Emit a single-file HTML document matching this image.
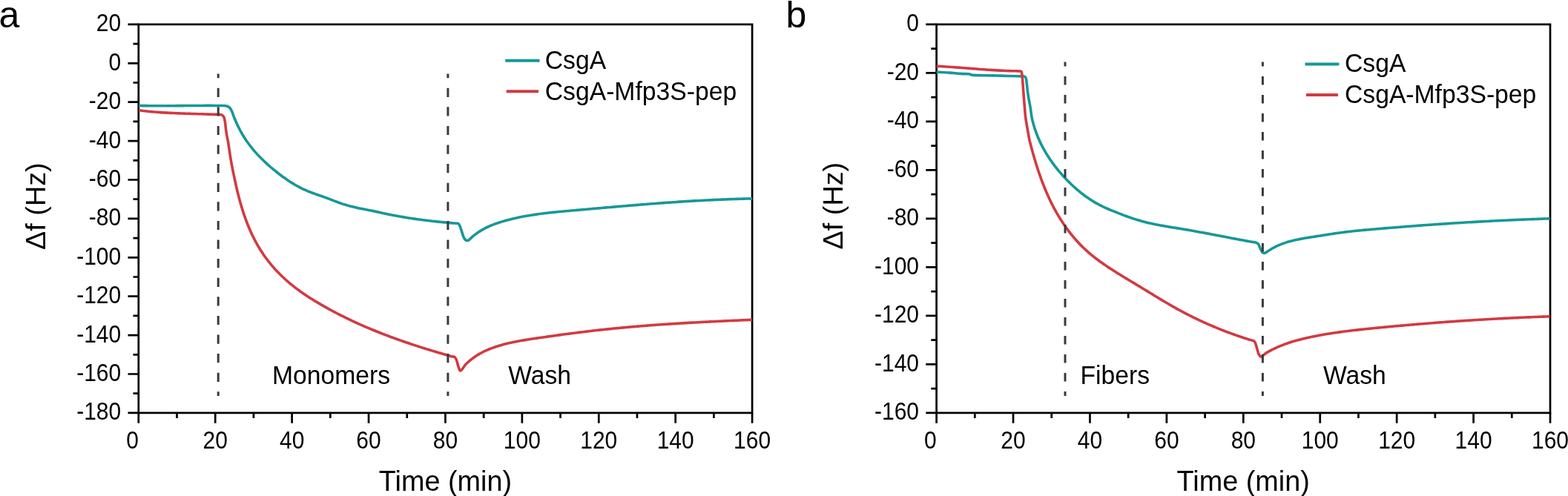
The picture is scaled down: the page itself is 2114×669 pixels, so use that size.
<!DOCTYPE html>
<html><head><meta charset="utf-8"><title>QCM-D frequency shift</title>
<style>
html,body{margin:0;padding:0;background:#fff;}
body{width:2114px;height:669px;overflow:hidden;}
svg{display:block;}
text{font-family:'Liberation Sans', Arial, sans-serif;fill:#000;}
.tk{font-size:30px;}
.tt{font-size:37.8px;}
.lg{font-size:33.7px;}
.pl{font-size:50px;}
</style></head>
<body>
<svg width="2114" height="669" viewBox="0 0 2114 669">
<rect width="2114" height="669" fill="#fff"/>
<rect x="186.80" y="32.90" width="827.30" height="524.00" fill="none" stroke="#000" stroke-width="2.7"/>
<text transform="translate(163.20,42.30) scale(1,1.12)" text-anchor="end" class="tk">20</text>
<text transform="translate(163.20,94.70) scale(1,1.12)" text-anchor="end" class="tk">0</text>
<text transform="translate(163.20,147.10) scale(1,1.12)" text-anchor="end" class="tk">-20</text>
<text transform="translate(163.20,199.50) scale(1,1.12)" text-anchor="end" class="tk">-40</text>
<text transform="translate(163.20,251.90) scale(1,1.12)" text-anchor="end" class="tk">-60</text>
<text transform="translate(163.20,304.30) scale(1,1.12)" text-anchor="end" class="tk">-80</text>
<text transform="translate(163.20,356.70) scale(1,1.12)" text-anchor="end" class="tk">-100</text>
<text transform="translate(163.20,409.10) scale(1,1.12)" text-anchor="end" class="tk">-120</text>
<text transform="translate(163.20,461.50) scale(1,1.12)" text-anchor="end" class="tk">-140</text>
<text transform="translate(163.20,513.90) scale(1,1.12)" text-anchor="end" class="tk">-160</text>
<text transform="translate(163.20,566.30) scale(1,1.12)" text-anchor="end" class="tk">-180</text>
<text transform="translate(178.50,604.8) scale(1,1.12)" text-anchor="middle" class="tk">0</text>
<text transform="translate(290.21,604.8) scale(1,1.12)" text-anchor="middle" class="tk">20</text>
<text transform="translate(393.62,604.8) scale(1,1.12)" text-anchor="middle" class="tk">40</text>
<text transform="translate(497.04,604.8) scale(1,1.12)" text-anchor="middle" class="tk">60</text>
<text transform="translate(600.45,604.8) scale(1,1.12)" text-anchor="middle" class="tk">80</text>
<text transform="translate(703.86,604.8) scale(1,1.12)" text-anchor="middle" class="tk">100</text>
<text transform="translate(807.28,604.8) scale(1,1.12)" text-anchor="middle" class="tk">120</text>
<text transform="translate(910.69,604.8) scale(1,1.12)" text-anchor="middle" class="tk">140</text>
<text transform="translate(1014.10,604.8) scale(1,1.12)" text-anchor="middle" class="tk">160</text>
<path d="M172.50,32.90H186.80M179.50,59.10H186.80M172.50,85.30H186.80M179.50,111.50H186.80M172.50,137.70H186.80M179.50,163.90H186.80M172.50,190.10H186.80M179.50,216.30H186.80M172.50,242.50H186.80M179.50,268.70H186.80M172.50,294.90H186.80M179.50,321.10H186.80M172.50,347.30H186.80M179.50,373.50H186.80M172.50,399.70H186.80M179.50,425.90H186.80M172.50,452.10H186.80M179.50,478.30H186.80M172.50,504.50H186.80M179.50,530.70H186.80M172.50,556.90H186.80M186.80,556.90V570.70M238.51,556.90V563.90M290.21,556.90V570.70M341.92,556.90V563.90M393.62,556.90V570.70M445.33,556.90V563.90M497.04,556.90V570.70M548.74,556.90V563.90M600.45,556.90V570.70M652.16,556.90V563.90M703.86,556.90V570.70M755.57,556.90V563.90M807.28,556.90V570.70M858.98,556.90V563.90M910.69,556.90V570.70M962.39,556.90V563.90M1014.10,556.90V570.70" stroke="#000" stroke-width="2.7" fill="none"/>
<rect x="1262.60" y="32.90" width="827.40" height="524.00" fill="none" stroke="#000" stroke-width="2.7"/>
<text transform="translate(1239.00,42.30) scale(1,1.12)" text-anchor="end" class="tk">0</text>
<text transform="translate(1239.00,107.80) scale(1,1.12)" text-anchor="end" class="tk">-20</text>
<text transform="translate(1239.00,173.30) scale(1,1.12)" text-anchor="end" class="tk">-40</text>
<text transform="translate(1239.00,238.80) scale(1,1.12)" text-anchor="end" class="tk">-60</text>
<text transform="translate(1239.00,304.30) scale(1,1.12)" text-anchor="end" class="tk">-80</text>
<text transform="translate(1239.00,369.80) scale(1,1.12)" text-anchor="end" class="tk">-100</text>
<text transform="translate(1239.00,435.30) scale(1,1.12)" text-anchor="end" class="tk">-120</text>
<text transform="translate(1239.00,500.80) scale(1,1.12)" text-anchor="end" class="tk">-140</text>
<text transform="translate(1239.00,566.30) scale(1,1.12)" text-anchor="end" class="tk">-160</text>
<text transform="translate(1254.30,604.8) scale(1,1.12)" text-anchor="middle" class="tk">0</text>
<text transform="translate(1366.02,604.8) scale(1,1.12)" text-anchor="middle" class="tk">20</text>
<text transform="translate(1469.45,604.8) scale(1,1.12)" text-anchor="middle" class="tk">40</text>
<text transform="translate(1572.88,604.8) scale(1,1.12)" text-anchor="middle" class="tk">60</text>
<text transform="translate(1676.30,604.8) scale(1,1.12)" text-anchor="middle" class="tk">80</text>
<text transform="translate(1779.72,604.8) scale(1,1.12)" text-anchor="middle" class="tk">100</text>
<text transform="translate(1883.15,604.8) scale(1,1.12)" text-anchor="middle" class="tk">120</text>
<text transform="translate(1986.58,604.8) scale(1,1.12)" text-anchor="middle" class="tk">140</text>
<text transform="translate(2090.00,604.8) scale(1,1.12)" text-anchor="middle" class="tk">160</text>
<path d="M1248.30,32.90H1262.60M1255.30,65.65H1262.60M1248.30,98.40H1262.60M1255.30,131.15H1262.60M1248.30,163.90H1262.60M1255.30,196.65H1262.60M1248.30,229.40H1262.60M1255.30,262.15H1262.60M1248.30,294.90H1262.60M1255.30,327.65H1262.60M1248.30,360.40H1262.60M1255.30,393.15H1262.60M1248.30,425.90H1262.60M1255.30,458.65H1262.60M1248.30,491.40H1262.60M1255.30,524.15H1262.60M1248.30,556.90H1262.60M1262.60,556.90V570.70M1314.31,556.90V563.90M1366.02,556.90V570.70M1417.74,556.90V563.90M1469.45,556.90V570.70M1521.16,556.90V563.90M1572.88,556.90V570.70M1624.59,556.90V563.90M1676.30,556.90V570.70M1728.01,556.90V563.90M1779.72,556.90V570.70M1831.44,556.90V563.90M1883.15,556.90V570.70M1934.86,556.90V563.90M1986.58,556.90V570.70M2038.29,556.90V563.90M2090.00,556.90V570.70" stroke="#000" stroke-width="2.7" fill="none"/>
<path d="M187.00,142.50C187.72,142.51 189.87,142.55 191.30,142.58C192.73,142.60 194.16,142.62 195.60,142.64C197.03,142.65 198.46,142.67 199.89,142.68C201.32,142.70 202.76,142.71 204.19,142.72C205.62,142.73 207.05,142.73 208.48,142.74C209.91,142.74 211.34,142.75 212.77,142.75C214.20,142.75 215.63,142.75 217.06,142.75C218.49,142.75 219.92,142.75 221.35,142.75C222.78,142.74 224.21,142.74 225.64,142.73C227.07,142.73 228.50,142.72 229.93,142.71C231.36,142.70 232.79,142.70 234.22,142.69C235.65,142.68 237.08,142.67 238.51,142.66C239.94,142.65 241.36,142.64 242.79,142.63C244.22,142.62 245.65,142.61 247.08,142.59C248.51,142.58 249.94,142.57 251.37,142.56C252.80,142.55 254.23,142.54 255.66,142.53C257.09,142.52 258.52,142.51 259.95,142.50C261.38,142.49 262.81,142.48 264.24,142.47C265.67,142.46 267.10,142.45 268.53,142.45C269.96,142.44 271.39,142.43 272.82,142.43C274.25,142.42 275.68,142.42 277.11,142.42C278.54,142.42 279.98,142.41 281.41,142.41C282.84,142.42 284.27,142.42 285.70,142.42C287.13,142.42 288.57,142.43 290.00,142.44C291.43,142.44 292.87,142.45 294.30,142.46C295.73,142.47 296.97,142.46 298.60,142.50C300.23,142.54 302.40,142.38 304.10,142.70C305.80,143.02 307.57,143.55 308.80,144.40C310.03,145.25 310.72,146.45 311.50,147.80C312.28,149.15 312.94,151.09 313.50,152.50C314.06,153.91 314.41,155.02 314.88,156.27C315.36,157.53 315.85,158.78 316.36,160.03C316.87,161.27 317.39,162.52 317.93,163.76C318.47,164.99 319.03,166.23 319.60,167.45C320.17,168.68 320.75,169.90 321.35,171.12C321.95,172.33 322.57,173.54 323.20,174.74C323.83,175.94 324.48,177.13 325.14,178.31C325.80,179.49 326.48,180.66 327.17,181.83C327.86,182.99 328.57,184.14 329.29,185.29C330.02,186.43 330.75,187.56 331.50,188.68C332.25,189.80 333.02,190.91 333.80,192.00C334.58,193.10 335.38,194.18 336.19,195.26C336.99,196.33 337.82,197.39 338.65,198.44C339.49,199.49 340.33,200.53 341.19,201.57C342.05,202.60 342.93,203.62 343.81,204.63C344.69,205.64 345.59,206.64 346.50,207.63C347.40,208.62 348.32,209.60 349.25,210.57C350.18,211.54 351.12,212.50 352.07,213.45C353.02,214.41 353.98,215.35 354.95,216.29C355.91,217.22 356.89,218.15 357.88,219.07C358.86,219.99 359.86,220.90 360.86,221.80C361.86,222.71 362.88,223.60 363.89,224.49C364.91,225.38 365.94,226.26 366.97,227.13C368.00,228.00 369.04,228.87 370.09,229.72C371.14,230.58 372.19,231.43 373.25,232.27C374.31,233.11 375.38,233.94 376.46,234.76C377.53,235.59 378.61,236.40 379.70,237.20C380.79,238.01 381.88,238.80 382.99,239.59C384.09,240.37 385.19,241.15 386.31,241.91C387.42,242.67 388.54,243.43 389.67,244.17C390.80,244.91 391.93,245.64 393.07,246.36C394.21,247.08 395.35,247.79 396.50,248.49C397.66,249.18 398.81,249.86 399.98,250.53C401.15,251.19 402.33,251.84 403.51,252.46C404.70,253.09 405.89,253.70 407.10,254.28C408.30,254.87 409.52,255.43 410.75,255.98C411.97,256.52 413.21,257.04 414.45,257.55C415.69,258.07 416.94,258.56 418.20,259.04C419.45,259.53 420.72,260.00 421.98,260.46C423.24,260.93 424.51,261.39 425.78,261.84C427.05,262.30 428.32,262.74 429.59,263.19C430.86,263.64 432.13,264.09 433.40,264.54C434.67,264.99 435.94,265.44 437.21,265.89C438.48,266.35 439.75,266.80 441.01,267.27C442.28,267.73 443.54,268.20 444.80,268.68C446.06,269.15 447.31,269.64 448.57,270.12C449.83,270.60 451.08,271.08 452.34,271.56C453.59,272.03 454.85,272.51 456.11,272.97C457.37,273.44 458.63,273.89 459.90,274.33C461.17,274.78 462.44,275.21 463.71,275.62C464.99,276.03 466.27,276.42 467.56,276.80C468.85,277.17 470.14,277.53 471.44,277.88C472.74,278.22 474.04,278.55 475.35,278.87C476.65,279.19 477.96,279.50 479.28,279.80C480.59,280.10 481.91,280.38 483.23,280.67C484.54,280.95 485.87,281.22 487.19,281.49C488.51,281.76 489.84,282.02 491.16,282.28C492.48,282.55 493.81,282.80 495.14,283.06C496.46,283.32 497.79,283.58 499.11,283.84C500.44,284.10 501.76,284.37 503.08,284.63C504.41,284.90 505.73,285.17 507.05,285.45C508.37,285.73 509.68,286.02 511.00,286.30C512.31,286.59 513.63,286.88 514.94,287.17C516.26,287.46 517.57,287.75 518.89,288.03C520.21,288.31 521.52,288.59 522.84,288.87C524.16,289.14 525.48,289.41 526.80,289.67C528.12,289.94 529.45,290.19 530.77,290.45C532.09,290.70 533.42,290.95 534.74,291.20C536.07,291.44 537.39,291.68 538.72,291.92C540.05,292.15 541.38,292.38 542.71,292.61C544.04,292.84 545.37,293.06 546.70,293.28C548.03,293.50 549.36,293.71 550.69,293.92C552.03,294.13 553.36,294.34 554.69,294.54C556.03,294.74 557.36,294.94 558.70,295.13C560.03,295.32 561.37,295.51 562.71,295.70C564.04,295.89 565.38,296.07 566.72,296.25C568.06,296.42 569.39,296.60 570.73,296.77C572.07,296.94 573.41,297.11 574.75,297.27C576.09,297.44 577.43,297.60 578.77,297.76C580.11,297.91 581.45,298.07 582.79,298.22C584.14,298.37 585.48,298.52 586.82,298.66C588.16,298.81 589.50,298.95 590.84,299.09C592.19,299.23 593.53,299.36 594.87,299.50C596.21,299.63 597.55,299.76 598.90,299.89C600.24,300.02 601.58,300.14 602.92,300.26C604.27,300.39 605.61,300.51 606.95,300.62C608.29,300.74 609.63,300.86 610.98,300.97C612.32,301.08 613.83,301.18 615.00,301.30C616.17,301.42 617.13,301.02 618.00,301.70C618.87,302.38 619.45,303.67 620.20,305.40C620.95,307.13 621.75,309.85 622.50,312.10C623.25,314.35 623.95,317.08 624.70,318.90C625.45,320.72 626.18,322.07 627.00,323.00C627.82,323.93 628.73,324.38 629.60,324.50C630.47,324.62 631.26,324.32 632.20,323.70C633.14,323.08 634.19,321.73 635.22,320.80C636.24,319.87 637.28,318.97 638.34,318.10C639.40,317.23 640.48,316.40 641.57,315.59C642.66,314.78 643.77,314.01 644.89,313.26C646.01,312.51 647.15,311.79 648.30,311.10C649.44,310.40 650.61,309.73 651.78,309.09C652.96,308.45 654.15,307.83 655.34,307.23C656.54,306.64 657.75,306.06 658.97,305.51C660.19,304.96 661.42,304.43 662.66,303.92C663.90,303.41 665.15,302.92 666.41,302.44C667.66,301.97 668.93,301.51 670.20,301.07C671.47,300.63 672.74,300.21 674.03,299.80C675.31,299.39 676.60,299.00 677.89,298.61C679.18,298.23 680.48,297.86 681.78,297.50C683.08,297.14 684.38,296.80 685.69,296.46C687.00,296.12 688.31,295.79 689.62,295.47C690.93,295.15 692.24,294.84 693.56,294.54C694.88,294.24 696.20,293.95 697.52,293.67C698.84,293.39 700.16,293.11 701.49,292.85C702.82,292.58 704.15,292.32 705.48,292.07C706.81,291.82 708.14,291.58 709.47,291.34C710.81,291.10 712.14,290.88 713.48,290.65C714.82,290.43 716.16,290.22 717.50,290.01C718.84,289.80 720.18,289.60 721.53,289.40C722.87,289.20 724.22,289.01 725.56,288.83C726.91,288.64 728.26,288.46 729.61,288.29C730.96,288.11 732.31,287.94 733.66,287.78C735.01,287.61 736.37,287.45 737.72,287.29C739.08,287.14 740.43,286.98 741.79,286.83C743.14,286.68 744.50,286.54 745.86,286.40C747.21,286.25 748.57,286.12 749.93,285.98C751.29,285.84 752.65,285.71 754.00,285.58C755.36,285.45 756.72,285.32 758.08,285.19C759.44,285.06 760.80,284.94 762.16,284.81C763.52,284.69 764.88,284.57 766.24,284.44C767.60,284.32 768.96,284.20 770.32,284.08C771.68,283.96 773.04,283.84 774.40,283.72C775.76,283.60 777.12,283.48 778.48,283.36C779.84,283.24 781.20,283.12 782.56,283.01C783.91,282.89 785.27,282.77 786.63,282.65C787.99,282.53 789.34,282.41 790.70,282.29C792.06,282.17 793.42,282.05 794.77,281.93C796.13,281.81 797.48,281.69 798.84,281.57C800.20,281.45 801.55,281.33 802.91,281.21C804.26,281.09 805.62,280.97 806.97,280.85C808.32,280.74 809.68,280.62 811.03,280.50C812.39,280.38 813.74,280.26 815.10,280.14C816.45,280.03 817.80,279.91 819.16,279.79C820.51,279.67 821.86,279.55 823.21,279.44C824.57,279.32 825.92,279.20 827.27,279.09C828.63,278.97 829.98,278.85 831.33,278.74C832.68,278.62 834.03,278.51 835.39,278.39C836.74,278.28 838.09,278.16 839.44,278.05C840.79,277.93 842.14,277.82 843.49,277.71C844.85,277.59 846.20,277.48 847.55,277.37C848.90,277.25 850.25,277.14 851.60,277.03C852.95,276.92 854.30,276.81 855.65,276.70C857.00,276.59 858.35,276.47 859.70,276.37C861.05,276.26 862.41,276.15 863.76,276.04C865.11,275.93 866.46,275.82 867.81,275.71C869.16,275.61 870.51,275.50 871.86,275.39C873.21,275.29 874.56,275.18 875.91,275.08C877.26,274.97 878.61,274.87 879.96,274.77C881.31,274.66 882.66,274.56 884.01,274.46C885.36,274.36 886.71,274.25 888.06,274.15C889.41,274.05 890.76,273.95 892.11,273.85C893.46,273.76 894.81,273.66 896.16,273.56C897.51,273.46 898.86,273.37 900.21,273.27C901.56,273.18 902.91,273.08 904.26,272.99C905.61,272.89 906.96,272.80 908.31,272.71C909.66,272.62 911.01,272.52 912.37,272.43C913.72,272.34 915.07,272.25 916.42,272.17C917.77,272.08 919.12,271.99 920.47,271.90C921.82,271.82 923.18,271.73 924.53,271.65C925.88,271.56 927.23,271.48 928.58,271.40C929.93,271.32 931.29,271.24 932.64,271.15C933.99,271.07 935.34,271.00 936.70,270.92C938.05,270.84 939.40,270.76 940.76,270.69C942.11,270.61 943.46,270.54 944.82,270.46C946.17,270.39 947.52,270.32 948.88,270.25C950.23,270.18 951.58,270.11 952.94,270.04C954.29,269.97 955.65,269.90 957.00,269.84C958.36,269.77 959.71,269.71 961.07,269.64C962.42,269.58 963.78,269.52 965.14,269.46C966.49,269.40 967.85,269.34 969.20,269.28C970.56,269.22 971.92,269.17 973.28,269.11C974.63,269.05 975.99,269.00 977.35,268.95C978.71,268.90 980.06,268.85 981.42,268.80C982.78,268.75 984.14,268.70 985.50,268.65C986.86,268.60 988.22,268.56 989.58,268.52C990.94,268.47 992.30,268.43 993.66,268.39C995.02,268.35 996.38,268.31 997.74,268.27C999.10,268.23 1000.47,268.20 1001.83,268.16C1003.19,268.13 1004.55,268.10 1005.92,268.07C1007.28,268.04 1008.64,268.01 1010.01,267.98C1011.37,267.95 1013.42,267.91 1014.10,267.90" fill="none" stroke="#169897" stroke-width="3.6" stroke-linejoin="round" stroke-linecap="butt"/>
<path d="M187.00,148.70C187.70,148.79 189.81,149.07 191.21,149.24C192.61,149.42 194.02,149.58 195.42,149.74C196.83,149.90 198.23,150.05 199.64,150.19C201.04,150.34 202.45,150.47 203.86,150.60C205.26,150.73 206.67,150.86 208.08,150.98C209.49,151.09 210.90,151.21 212.30,151.31C213.71,151.42 215.12,151.52 216.53,151.62C217.94,151.71 219.35,151.80 220.76,151.89C222.17,151.98 223.58,152.06 224.99,152.14C226.40,152.21 227.81,152.29 229.22,152.36C230.63,152.43 232.04,152.49 233.46,152.56C234.87,152.62 236.28,152.68 237.69,152.74C239.11,152.79 240.52,152.85 241.93,152.90C243.34,152.95 244.76,153.00 246.17,153.05C247.58,153.10 249.00,153.14 250.41,153.19C251.82,153.23 253.24,153.28 254.65,153.32C256.06,153.36 257.48,153.40 258.89,153.45C260.31,153.49 261.72,153.53 263.14,153.57C264.55,153.61 265.96,153.65 267.38,153.69C268.79,153.73 270.21,153.77 271.62,153.82C273.04,153.86 274.45,153.90 275.87,153.95C277.28,153.99 278.70,154.04 280.11,154.09C281.53,154.13 282.94,154.18 284.36,154.24C285.77,154.29 286.74,154.37 288.60,154.40C290.46,154.43 293.70,154.27 295.50,154.40C297.30,154.53 298.30,154.52 299.40,155.20C300.50,155.88 301.43,156.93 302.10,158.50C302.77,160.07 302.97,161.78 303.40,164.60C303.83,167.42 304.25,172.08 304.70,175.40C305.15,178.72 305.67,182.07 306.10,184.50C306.53,186.93 306.85,187.48 307.30,190.00C307.75,192.52 308.32,196.40 308.80,199.60C309.28,202.80 309.70,206.02 310.20,209.20C310.70,212.38 311.23,215.52 311.80,218.70C312.37,221.88 312.97,225.10 313.60,228.30C314.23,231.50 315.13,235.65 315.60,237.90C316.07,240.15 316.13,240.51 316.41,241.82C316.68,243.13 316.96,244.44 317.24,245.75C317.52,247.06 317.81,248.37 318.10,249.68C318.40,250.99 318.69,252.30 319.00,253.62C319.30,254.93 319.61,256.24 319.93,257.55C320.24,258.86 320.56,260.18 320.89,261.49C321.22,262.80 321.55,264.11 321.89,265.42C322.23,266.73 322.58,268.04 322.94,269.34C323.29,270.65 323.65,271.96 324.02,273.26C324.39,274.56 324.76,275.87 325.14,277.17C325.53,278.47 325.92,279.76 326.32,281.06C326.72,282.36 327.12,283.65 327.54,284.94C327.95,286.23 328.37,287.52 328.81,288.80C329.24,290.09 329.68,291.37 330.13,292.64C330.58,293.92 331.03,295.20 331.50,296.47C331.97,297.74 332.44,299.00 332.93,300.26C333.42,301.53 333.91,302.78 334.42,304.04C334.92,305.29 335.44,306.54 335.96,307.78C336.49,309.02 337.02,310.26 337.57,311.50C338.12,312.73 338.67,313.96 339.24,315.18C339.81,316.40 340.39,317.62 340.98,318.82C341.57,320.03 342.17,321.24 342.78,322.44C343.39,323.63 344.02,324.82 344.65,326.01C345.29,327.19 345.94,328.37 346.60,329.54C347.26,330.71 347.93,331.87 348.62,333.02C349.30,334.18 350.00,335.32 350.71,336.46C351.42,337.60 352.14,338.73 352.88,339.86C353.61,340.98 354.36,342.09 355.12,343.20C355.89,344.31 356.66,345.40 357.45,346.49C358.23,347.58 359.03,348.66 359.84,349.74C360.65,350.81 361.47,351.87 362.30,352.93C363.14,353.98 363.98,355.03 364.84,356.07C365.69,357.11 366.56,358.13 367.44,359.15C368.32,360.17 369.21,361.18 370.11,362.19C371.00,363.19 371.91,364.18 372.83,365.16C373.75,366.15 374.68,367.12 375.62,368.09C376.56,369.05 377.51,370.01 378.47,370.95C379.43,371.90 380.40,372.83 381.38,373.76C382.36,374.69 383.34,375.60 384.34,376.51C385.34,377.42 386.34,378.32 387.35,379.20C388.37,380.09 389.39,380.97 390.42,381.84C391.45,382.70 392.49,383.56 393.54,384.41C394.58,385.26 395.64,386.09 396.70,386.92C397.76,387.75 398.83,388.57 399.90,389.38C400.98,390.19 402.06,390.99 403.15,391.78C404.24,392.57 405.33,393.35 406.44,394.13C407.54,394.90 408.65,395.67 409.76,396.43C410.87,397.19 411.99,397.94 413.11,398.69C414.24,399.43 415.36,400.17 416.50,400.90C417.63,401.63 418.77,402.35 419.91,403.07C421.05,403.78 422.19,404.49 423.34,405.20C424.49,405.91 425.64,406.60 426.80,407.30C427.96,407.99 429.11,408.68 430.28,409.36C431.44,410.05 432.60,410.73 433.77,411.40C434.93,412.07 436.10,412.74 437.28,413.41C438.45,414.07 439.62,414.73 440.80,415.39C441.97,416.04 443.15,416.69 444.34,417.34C445.52,417.98 446.70,418.62 447.89,419.26C449.07,419.89 450.26,420.53 451.45,421.15C452.64,421.78 453.84,422.40 455.03,423.02C456.23,423.64 457.43,424.25 458.63,424.86C459.83,425.47 461.03,426.08 462.24,426.68C463.44,427.28 464.65,427.87 465.86,428.47C467.07,429.06 468.28,429.64 469.49,430.23C470.70,430.81 471.92,431.39 473.13,431.97C474.35,432.54 475.57,433.11 476.79,433.68C478.01,434.25 479.24,434.81 480.46,435.37C481.69,435.93 482.91,436.48 484.14,437.03C485.37,437.58 486.60,438.13 487.83,438.67C489.07,439.22 490.30,439.76 491.54,440.29C492.77,440.83 494.01,441.36 495.25,441.89C496.49,442.41 497.73,442.94 498.98,443.46C500.22,443.98 501.46,444.49 502.71,445.01C503.95,445.52 505.20,446.03 506.45,446.54C507.70,447.04 508.95,447.54 510.20,448.04C511.46,448.54 512.71,449.04 513.97,449.53C515.22,450.02 516.48,450.51 517.74,450.99C518.99,451.48 520.25,451.96 521.51,452.44C522.78,452.92 524.04,453.39 525.30,453.87C526.56,454.34 527.83,454.81 529.09,455.27C530.36,455.74 531.63,456.20 532.90,456.66C534.16,457.12 535.43,457.57 536.71,458.03C537.98,458.48 539.25,458.93 540.52,459.38C541.79,459.82 543.07,460.27 544.34,460.71C545.62,461.15 546.89,461.59 548.17,462.02C549.45,462.46 550.73,462.89 552.00,463.32C553.28,463.75 554.56,464.18 555.84,464.60C557.12,465.03 558.41,465.45 559.69,465.87C560.97,466.29 562.25,466.70 563.54,467.12C564.82,467.53 566.11,467.94 567.39,468.35C568.68,468.76 569.96,469.16 571.25,469.57C572.54,469.97 573.82,470.37 575.11,470.77C576.40,471.17 577.69,471.57 578.98,471.96C580.27,472.35 581.56,472.75 582.85,473.14C584.14,473.53 585.43,473.91 586.72,474.30C588.01,474.68 589.30,475.06 590.60,475.45C591.89,475.83 593.18,476.20 594.47,476.58C595.77,476.96 597.06,477.33 598.35,477.70C599.65,478.08 600.94,478.45 602.23,478.81C603.53,479.18 604.82,479.55 606.12,479.91C607.41,480.28 608.85,480.72 610.00,481.00C611.15,481.28 612.13,480.95 613.00,481.60C613.87,482.25 614.47,483.10 615.20,484.90C615.93,486.70 616.65,490.03 617.40,492.40C618.15,494.77 619.07,497.87 619.70,499.10C620.33,500.33 620.58,500.05 621.20,499.80C621.82,499.55 622.42,498.83 623.40,497.60C624.38,496.37 625.99,493.76 627.10,492.40C628.21,491.04 629.04,490.41 630.04,489.46C631.03,488.51 632.05,487.59 633.08,486.70C634.12,485.81 635.17,484.96 636.24,484.13C637.30,483.30 638.39,482.50 639.49,481.73C640.59,480.96 641.70,480.21 642.83,479.49C643.96,478.78 645.10,478.08 646.26,477.42C647.42,476.75 648.59,476.11 649.77,475.49C650.95,474.87 652.15,474.27 653.35,473.70C654.56,473.12 655.77,472.57 657.00,472.04C658.22,471.50 659.46,470.99 660.71,470.50C661.95,470.00 663.21,469.53 664.47,469.07C665.73,468.62 667.00,468.18 668.28,467.75C669.56,467.33 670.84,466.93 672.13,466.53C673.42,466.14 674.72,465.76 676.02,465.40C677.32,465.03 678.62,464.68 679.93,464.35C681.24,464.01 682.55,463.68 683.87,463.36C685.18,463.05 686.50,462.74 687.82,462.44C689.14,462.15 690.46,461.86 691.79,461.58C693.11,461.30 694.44,461.03 695.77,460.77C697.09,460.51 698.42,460.25 699.75,460.01C701.09,459.76 702.42,459.52 703.75,459.29C705.09,459.05 706.42,458.82 707.76,458.60C709.09,458.38 710.43,458.16 711.77,457.95C713.11,457.73 714.44,457.53 715.78,457.32C717.12,457.12 718.46,456.92 719.80,456.72C721.14,456.52 722.48,456.32 723.82,456.13C725.16,455.93 726.50,455.74 727.84,455.55C729.18,455.36 730.52,455.17 731.85,454.98C733.19,454.79 734.53,454.60 735.87,454.41C737.21,454.22 738.54,454.03 739.88,453.84C741.21,453.65 742.55,453.46 743.89,453.28C745.22,453.09 746.56,452.90 747.89,452.71C749.23,452.52 750.56,452.34 751.89,452.15C753.23,451.97 754.56,451.78 755.90,451.60C757.23,451.41 758.57,451.23 759.90,451.05C761.23,450.86 762.57,450.68 763.90,450.50C765.24,450.32 766.57,450.14 767.91,449.97C769.24,449.79 770.58,449.61 771.91,449.44C773.25,449.27 774.58,449.09 775.92,448.92C777.26,448.75 778.59,448.58 779.93,448.41C781.27,448.25 782.61,448.08 783.94,447.92C785.28,447.75 786.62,447.59 787.96,447.43C789.30,447.27 790.63,447.11 791.97,446.95C793.31,446.79 794.65,446.63 795.99,446.48C797.33,446.32 798.67,446.17 800.01,446.01C801.35,445.86 802.69,445.71 804.03,445.56C805.37,445.41 806.71,445.26 808.05,445.12C809.39,444.97 810.73,444.83 812.07,444.68C813.42,444.54 814.76,444.40 816.10,444.25C817.44,444.11 818.78,443.97 820.12,443.84C821.46,443.70 822.81,443.56 824.15,443.43C825.49,443.29 826.83,443.16 828.18,443.03C829.52,442.89 830.86,442.76 832.20,442.63C833.55,442.50 834.89,442.37 836.23,442.25C837.58,442.12 838.92,442.00 840.26,441.87C841.60,441.75 842.95,441.62 844.29,441.50C845.64,441.38 846.98,441.26 848.32,441.14C849.67,441.02 851.01,440.90 852.35,440.79C853.70,440.67 855.04,440.56 856.39,440.44C857.73,440.33 859.07,440.22 860.42,440.10C861.76,439.99 863.11,439.88 864.45,439.77C865.80,439.66 867.14,439.56 868.49,439.45C869.83,439.34 871.17,439.24 872.52,439.13C873.86,439.03 875.21,438.93 876.55,438.82C877.90,438.72 879.24,438.62 880.59,438.52C881.93,438.42 883.28,438.32 884.62,438.23C885.97,438.13 887.31,438.03 888.66,437.94C890.01,437.84 891.35,437.75 892.70,437.66C894.04,437.56 895.39,437.47 896.73,437.38C898.08,437.29 899.42,437.20 900.77,437.11C902.11,437.02 903.46,436.93 904.81,436.85C906.15,436.76 907.50,436.67 908.84,436.59C910.19,436.50 911.54,436.42 912.88,436.34C914.23,436.25 915.57,436.17 916.92,436.09C918.27,436.01 919.61,435.93 920.96,435.85C922.30,435.77 923.65,435.69 925.00,435.61C926.34,435.53 927.69,435.46 929.04,435.38C930.38,435.30 931.73,435.23 933.08,435.15C934.42,435.08 935.77,435.01 937.12,434.93C938.46,434.86 939.81,434.79 941.16,434.71C942.51,434.64 943.85,434.57 945.20,434.50C946.55,434.43 947.89,434.36 949.24,434.29C950.59,434.22 951.94,434.15 953.28,434.08C954.63,434.01 955.98,433.95 957.33,433.88C958.68,433.81 960.02,433.75 961.37,433.68C962.72,433.61 964.07,433.55 965.42,433.48C966.76,433.42 968.11,433.35 969.46,433.29C970.81,433.23 972.16,433.16 973.51,433.10C974.86,433.04 976.20,432.97 977.55,432.91C978.90,432.85 980.25,432.79 981.60,432.73C982.95,432.66 984.30,432.60 985.65,432.54C987.00,432.48 988.35,432.42 989.70,432.36C991.05,432.30 992.39,432.24 993.74,432.18C995.09,432.12 996.44,432.06 997.79,432.00C999.14,431.94 1000.49,431.88 1001.84,431.82C1003.19,431.77 1004.55,431.71 1005.90,431.65C1007.25,431.59 1008.60,431.53 1009.95,431.47C1011.30,431.42 1013.32,431.33 1014.00,431.30" fill="none" stroke="#d23a41" stroke-width="3.6" stroke-linejoin="round" stroke-linecap="butt"/>
<path d="M1262.60,97.10C1265.48,97.27 1274.47,97.72 1279.90,98.10C1285.33,98.48 1290.85,99.12 1295.20,99.40C1299.55,99.68 1303.70,99.60 1306.00,99.80C1308.30,100.00 1307.98,100.33 1309.00,100.60C1310.02,100.87 1308.87,101.22 1312.10,101.40C1315.33,101.58 1323.12,101.60 1328.40,101.70C1333.68,101.80 1338.68,101.87 1343.80,102.00C1348.92,102.13 1354.38,102.37 1359.10,102.50C1363.82,102.63 1368.68,102.73 1372.10,102.80C1375.52,102.87 1377.95,102.78 1379.60,102.90C1381.25,103.02 1381.35,102.90 1382.00,103.50C1382.65,104.10 1383.13,105.08 1383.50,106.50C1383.87,107.92 1383.77,108.42 1384.20,112.00C1384.63,115.58 1385.30,122.67 1386.10,128.00C1386.90,133.33 1388.18,139.00 1389.00,144.00C1389.82,149.00 1390.52,155.01 1391.00,158.00C1391.48,160.99 1391.56,160.65 1391.87,161.96C1392.18,163.28 1392.51,164.58 1392.86,165.89C1393.21,167.19 1393.57,168.49 1393.95,169.78C1394.34,171.07 1394.74,172.36 1395.16,173.64C1395.58,174.91 1396.01,176.19 1396.46,177.45C1396.92,178.72 1397.39,179.98 1397.87,181.24C1398.36,182.49 1398.86,183.74 1399.38,184.98C1399.90,186.22 1400.44,187.46 1400.99,188.69C1401.54,189.91 1402.10,191.14 1402.69,192.35C1403.27,193.57 1403.87,194.77 1404.48,195.97C1405.09,197.18 1405.71,198.37 1406.36,199.56C1407.00,200.74 1407.65,201.92 1408.32,203.10C1408.99,204.27 1409.67,205.43 1410.37,206.59C1411.07,207.75 1411.78,208.90 1412.50,210.04C1413.22,211.19 1413.96,212.32 1414.71,213.45C1415.45,214.58 1416.22,215.70 1416.99,216.81C1417.76,217.92 1418.55,219.02 1419.34,220.12C1420.14,221.22 1420.95,222.31 1421.77,223.39C1422.59,224.47 1423.42,225.54 1424.26,226.60C1425.10,227.67 1425.96,228.72 1426.82,229.77C1427.68,230.82 1428.56,231.85 1429.44,232.88C1430.32,233.91 1431.22,234.94 1432.12,235.95C1433.02,236.96 1433.94,237.96 1434.86,238.96C1435.78,239.95 1436.71,240.94 1437.65,241.92C1438.59,242.90 1439.53,243.86 1440.49,244.82C1441.44,245.78 1442.41,246.73 1443.38,247.67C1444.35,248.61 1445.33,249.54 1446.32,250.47C1447.31,251.39 1448.30,252.30 1449.30,253.20C1450.31,254.10 1451.32,254.99 1452.34,255.87C1453.36,256.75 1454.39,257.62 1455.42,258.47C1456.46,259.33 1457.51,260.17 1458.56,261.00C1459.62,261.83 1460.68,262.65 1461.76,263.45C1462.83,264.25 1463.91,265.04 1465.01,265.82C1466.10,266.59 1467.20,267.36 1468.32,268.10C1469.43,268.85 1470.55,269.58 1471.69,270.29C1472.82,271.01 1473.97,271.71 1475.12,272.39C1476.28,273.07 1477.45,273.74 1478.62,274.39C1479.80,275.03 1480.99,275.67 1482.19,276.28C1483.38,276.90 1484.59,277.50 1485.80,278.09C1487.02,278.68 1488.24,279.26 1489.47,279.82C1490.70,280.39 1491.94,280.94 1493.18,281.49C1494.42,282.03 1495.66,282.57 1496.91,283.09C1498.16,283.62 1499.42,284.14 1500.67,284.65C1501.93,285.16 1503.19,285.67 1504.45,286.17C1505.71,286.67 1506.97,287.17 1508.23,287.67C1509.49,288.16 1510.76,288.65 1512.02,289.14C1513.28,289.63 1514.55,290.11 1515.81,290.58C1517.08,291.06 1518.34,291.52 1519.61,291.98C1520.88,292.44 1522.15,292.90 1523.42,293.34C1524.70,293.78 1525.97,294.22 1527.25,294.64C1528.53,295.06 1529.81,295.47 1531.09,295.87C1532.37,296.27 1533.66,296.66 1534.95,297.04C1536.24,297.42 1537.53,297.79 1538.83,298.14C1540.12,298.50 1541.42,298.85 1542.72,299.18C1544.02,299.52 1545.32,299.84 1546.63,300.16C1547.94,300.48 1549.25,300.78 1550.56,301.08C1551.87,301.38 1553.18,301.67 1554.50,301.95C1555.81,302.23 1557.13,302.51 1558.45,302.77C1559.77,303.04 1561.09,303.30 1562.42,303.55C1563.74,303.80 1565.07,304.05 1566.39,304.29C1567.72,304.53 1569.05,304.76 1570.38,305.00C1571.71,305.23 1573.04,305.46 1574.37,305.68C1575.70,305.91 1577.03,306.13 1578.36,306.35C1579.70,306.57 1581.03,306.78 1582.36,307.00C1583.70,307.22 1585.03,307.43 1586.37,307.65C1587.70,307.86 1589.03,308.08 1590.37,308.30C1591.70,308.51 1593.03,308.73 1594.37,308.95C1595.70,309.17 1597.03,309.39 1598.36,309.62C1599.70,309.84 1601.03,310.07 1602.36,310.30C1603.69,310.53 1605.02,310.76 1606.35,311.00C1607.68,311.23 1609.00,311.47 1610.33,311.71C1611.66,311.94 1612.99,312.19 1614.32,312.43C1615.64,312.67 1616.97,312.91 1618.30,313.16C1619.62,313.40 1620.95,313.65 1622.28,313.89C1623.60,314.14 1624.93,314.39 1626.25,314.64C1627.58,314.89 1628.90,315.14 1630.23,315.39C1631.55,315.64 1632.88,315.90 1634.20,316.15C1635.53,316.40 1636.85,316.66 1638.18,316.91C1639.50,317.17 1640.82,317.42 1642.15,317.68C1643.47,317.93 1644.80,318.19 1646.12,318.44C1647.45,318.70 1648.77,318.95 1650.09,319.21C1651.42,319.46 1652.74,319.72 1654.07,319.97C1655.39,320.23 1656.72,320.48 1658.04,320.73C1659.37,320.99 1660.69,321.24 1662.02,321.49C1663.34,321.74 1664.67,322.00 1665.99,322.25C1667.32,322.50 1668.65,322.75 1669.97,323.00C1671.30,323.24 1672.63,323.49 1673.95,323.74C1675.28,323.98 1676.61,324.23 1677.94,324.47C1679.26,324.71 1680.59,324.96 1681.92,325.20C1683.25,325.44 1684.58,325.67 1685.91,325.91C1687.24,326.15 1688.57,326.38 1689.90,326.61C1691.24,326.84 1692.73,326.79 1693.90,327.30C1695.07,327.81 1696.03,328.40 1696.90,329.70C1697.77,331.00 1698.35,333.45 1699.10,335.10C1699.85,336.75 1700.52,338.53 1701.40,339.60C1702.28,340.67 1703.15,341.57 1704.40,341.50C1705.65,341.43 1707.57,339.97 1708.90,339.20C1710.23,338.43 1711.19,337.64 1712.36,336.90C1713.52,336.17 1714.70,335.47 1715.89,334.80C1717.07,334.13 1718.28,333.49 1719.49,332.88C1720.70,332.27 1721.92,331.69 1723.15,331.14C1724.38,330.59 1725.62,330.06 1726.87,329.56C1728.11,329.06 1729.37,328.59 1730.64,328.13C1731.90,327.68 1733.18,327.26 1734.46,326.85C1735.73,326.45 1737.02,326.07 1738.31,325.70C1739.61,325.34 1740.91,325.00 1742.21,324.67C1743.51,324.35 1744.82,324.04 1746.13,323.75C1747.45,323.45 1748.77,323.17 1750.09,322.91C1751.41,322.64 1752.73,322.39 1754.06,322.14C1755.38,321.89 1756.71,321.66 1758.04,321.43C1759.37,321.20 1760.70,320.98 1762.04,320.76C1763.37,320.54 1764.70,320.33 1766.04,320.12C1767.37,319.91 1768.71,319.70 1770.04,319.49C1771.38,319.29 1772.72,319.08 1774.05,318.88C1775.39,318.67 1776.72,318.47 1778.06,318.26C1779.40,318.05 1780.73,317.84 1782.07,317.63C1783.40,317.42 1784.74,317.21 1786.07,317.00C1787.41,316.79 1788.74,316.58 1790.08,316.37C1791.41,316.16 1792.75,315.95 1794.08,315.75C1795.42,315.54 1796.75,315.34 1798.09,315.14C1799.43,314.94 1800.76,314.74 1802.10,314.54C1803.44,314.35 1804.77,314.16 1806.11,313.97C1807.45,313.78 1808.79,313.60 1810.13,313.43C1811.47,313.25 1812.81,313.08 1814.15,312.91C1815.50,312.75 1816.84,312.59 1818.18,312.43C1819.52,312.27 1820.87,312.12 1822.21,311.97C1823.56,311.83 1824.90,311.68 1826.25,311.54C1827.59,311.40 1828.94,311.27 1830.29,311.13C1831.63,311.00 1832.98,310.87 1834.33,310.74C1835.68,310.61 1837.02,310.48 1838.37,310.36C1839.72,310.24 1841.07,310.11 1842.42,309.99C1843.76,309.87 1845.11,309.75 1846.46,309.64C1847.81,309.52 1849.16,309.40 1850.51,309.28C1851.86,309.17 1853.21,309.05 1854.55,308.94C1855.90,308.82 1857.25,308.71 1858.60,308.59C1859.95,308.48 1861.30,308.36 1862.65,308.25C1864.00,308.14 1865.35,308.02 1866.69,307.91C1868.04,307.80 1869.39,307.69 1870.74,307.58C1872.09,307.47 1873.44,307.36 1874.79,307.25C1876.14,307.13 1877.49,307.03 1878.83,306.92C1880.18,306.81 1881.53,306.70 1882.88,306.59C1884.23,306.48 1885.58,306.38 1886.93,306.27C1888.28,306.16 1889.63,306.06 1890.98,305.95C1892.33,305.84 1893.67,305.74 1895.02,305.63C1896.37,305.53 1897.72,305.43 1899.07,305.32C1900.42,305.22 1901.77,305.12 1903.12,305.01C1904.47,304.91 1905.82,304.81 1907.17,304.71C1908.52,304.61 1909.87,304.51 1911.21,304.41C1912.56,304.31 1913.91,304.21 1915.26,304.11C1916.61,304.01 1917.96,303.91 1919.31,303.81C1920.66,303.72 1922.01,303.62 1923.36,303.52C1924.71,303.43 1926.06,303.33 1927.41,303.23C1928.76,303.14 1930.11,303.04 1931.46,302.95C1932.81,302.86 1934.16,302.76 1935.51,302.67C1936.86,302.58 1938.21,302.48 1939.56,302.39C1940.90,302.30 1942.25,302.21 1943.60,302.12C1944.95,302.03 1946.30,301.94 1947.65,301.85C1949.00,301.76 1950.35,301.67 1951.70,301.58C1953.05,301.49 1954.40,301.40 1955.75,301.32C1957.10,301.23 1958.45,301.14 1959.80,301.06C1961.16,300.97 1962.51,300.89 1963.86,300.80C1965.21,300.72 1966.56,300.63 1967.91,300.55C1969.26,300.47 1970.61,300.38 1971.96,300.30C1973.31,300.22 1974.66,300.14 1976.01,300.06C1977.36,299.98 1978.71,299.90 1980.06,299.82C1981.41,299.74 1982.76,299.66 1984.11,299.58C1985.46,299.50 1986.81,299.42 1988.17,299.35C1989.52,299.27 1990.87,299.19 1992.22,299.12C1993.57,299.04 1994.92,298.97 1996.27,298.89C1997.62,298.82 1998.97,298.74 2000.33,298.67C2001.68,298.60 2003.03,298.52 2004.38,298.45C2005.73,298.38 2007.08,298.31 2008.43,298.24C2009.78,298.17 2011.14,298.10 2012.49,298.03C2013.84,297.96 2015.19,297.89 2016.54,297.82C2017.89,297.75 2019.25,297.69 2020.60,297.62C2021.95,297.55 2023.30,297.49 2024.65,297.42C2026.00,297.36 2027.36,297.29 2028.71,297.23C2030.06,297.16 2031.41,297.10 2032.77,297.04C2034.12,296.97 2035.47,296.91 2036.82,296.85C2038.17,296.79 2039.53,296.73 2040.88,296.67C2042.23,296.61 2043.58,296.55 2044.94,296.49C2046.29,296.43 2047.64,296.37 2048.99,296.31C2050.35,296.26 2051.70,296.20 2053.05,296.14C2054.41,296.09 2055.76,296.03 2057.11,295.98C2058.47,295.92 2059.82,295.87 2061.17,295.82C2062.52,295.76 2063.88,295.71 2065.23,295.66C2066.58,295.61 2067.94,295.56 2069.29,295.50C2070.64,295.45 2072.00,295.40 2073.35,295.36C2074.71,295.31 2076.06,295.26 2077.41,295.21C2078.77,295.16 2080.12,295.12 2081.48,295.07C2082.83,295.02 2084.18,294.98 2085.54,294.93C2086.89,294.89 2088.92,294.82 2089.60,294.80" fill="none" stroke="#169897" stroke-width="3.6" stroke-linejoin="round" stroke-linecap="butt"/>
<path d="M1262.60,89.20C1263.32,89.24 1265.46,89.35 1266.90,89.43C1268.33,89.51 1269.76,89.59 1271.19,89.67C1272.62,89.76 1274.06,89.85 1275.49,89.94C1276.92,90.03 1278.35,90.13 1279.78,90.23C1281.21,90.33 1282.64,90.43 1284.08,90.53C1285.51,90.63 1286.94,90.73 1288.37,90.84C1289.80,90.95 1291.23,91.05 1292.66,91.16C1294.09,91.27 1295.52,91.38 1296.95,91.49C1298.39,91.60 1299.82,91.71 1301.25,91.83C1302.68,91.94 1304.11,92.05 1305.54,92.16C1306.97,92.28 1308.40,92.39 1309.83,92.50C1311.26,92.61 1312.69,92.72 1314.12,92.83C1315.55,92.94 1316.99,93.05 1318.42,93.16C1319.85,93.27 1321.28,93.38 1322.71,93.48C1324.14,93.59 1325.57,93.69 1327.00,93.79C1328.43,93.90 1329.87,94.00 1331.30,94.09C1332.73,94.19 1334.16,94.28 1335.59,94.38C1337.03,94.47 1338.46,94.56 1339.89,94.64C1341.32,94.73 1342.75,94.81 1344.19,94.89C1345.62,94.96 1347.05,95.04 1348.49,95.11C1349.92,95.18 1351.35,95.25 1352.79,95.31C1354.22,95.37 1355.65,95.43 1357.09,95.48C1358.52,95.53 1359.95,95.58 1361.39,95.62C1362.82,95.66 1364.26,95.70 1365.69,95.73C1367.13,95.76 1368.43,95.75 1370.00,95.80C1371.57,95.85 1373.90,95.83 1375.10,96.00C1376.30,96.17 1376.68,95.63 1377.20,96.80C1377.72,97.97 1377.92,100.47 1378.20,103.00C1378.48,105.53 1378.58,107.83 1378.90,112.00C1379.22,116.17 1379.68,122.67 1380.10,128.00C1380.52,133.33 1380.98,139.00 1381.40,144.00C1381.82,149.00 1382.02,153.33 1382.60,158.00C1383.18,162.67 1384.05,167.00 1384.90,172.00C1385.75,177.00 1387.07,184.68 1387.70,188.00C1388.33,191.32 1388.36,190.60 1388.69,191.90C1389.03,193.20 1389.37,194.50 1389.71,195.80C1390.05,197.10 1390.39,198.40 1390.74,199.70C1391.09,201.00 1391.45,202.30 1391.80,203.60C1392.16,204.90 1392.52,206.20 1392.89,207.50C1393.25,208.80 1393.62,210.10 1394.00,211.40C1394.37,212.69 1394.75,213.99 1395.14,215.28C1395.52,216.58 1395.91,217.87 1396.31,219.17C1396.70,220.46 1397.10,221.75 1397.51,223.04C1397.91,224.33 1398.33,225.62 1398.74,226.91C1399.16,228.19 1399.58,229.48 1400.01,230.76C1400.44,232.04 1400.87,233.32 1401.31,234.60C1401.76,235.88 1402.20,237.16 1402.66,238.43C1403.11,239.71 1403.57,240.98 1404.04,242.25C1404.50,243.52 1404.98,244.78 1405.46,246.05C1405.94,247.31 1406.43,248.57 1406.92,249.83C1407.42,251.09 1407.92,252.34 1408.43,253.59C1408.94,254.84 1409.46,256.09 1409.98,257.34C1410.51,258.58 1411.04,259.82 1411.58,261.06C1412.12,262.30 1412.67,263.53 1413.23,264.76C1413.79,265.99 1414.35,267.21 1414.93,268.43C1415.50,269.66 1416.08,270.87 1416.68,272.09C1417.27,273.30 1417.87,274.51 1418.48,275.71C1419.09,276.91 1419.71,278.11 1420.33,279.31C1420.96,280.50 1421.60,281.69 1422.25,282.88C1422.89,284.06 1423.55,285.24 1424.22,286.41C1424.88,287.59 1425.56,288.76 1426.25,289.92C1426.93,291.08 1427.63,292.24 1428.34,293.39C1429.04,294.54 1429.76,295.69 1430.49,296.83C1431.21,297.97 1431.95,299.10 1432.70,300.23C1433.44,301.35 1434.20,302.47 1434.97,303.58C1435.73,304.70 1436.51,305.80 1437.30,306.90C1438.08,308.00 1438.88,309.09 1439.69,310.17C1440.49,311.25 1441.31,312.33 1442.14,313.39C1442.97,314.46 1443.80,315.52 1444.65,316.57C1445.50,317.61 1446.35,318.66 1447.22,319.69C1448.09,320.72 1448.97,321.74 1449.85,322.75C1450.74,323.77 1451.64,324.77 1452.55,325.76C1453.46,326.76 1454.37,327.74 1455.30,328.72C1456.23,329.69 1457.17,330.65 1458.12,331.61C1459.07,332.56 1460.02,333.50 1460.99,334.43C1461.96,335.37 1462.94,336.29 1463.93,337.20C1464.92,338.10 1465.92,339.00 1466.93,339.89C1467.94,340.78 1468.96,341.65 1469.99,342.52C1471.01,343.38 1472.05,344.24 1473.10,345.08C1474.14,345.93 1475.20,346.76 1476.26,347.59C1477.32,348.42 1478.39,349.23 1479.47,350.04C1480.54,350.85 1481.63,351.65 1482.72,352.45C1483.80,353.24 1484.90,354.02 1486.00,354.80C1487.10,355.58 1488.21,356.35 1489.32,357.12C1490.44,357.88 1491.55,358.64 1492.68,359.39C1493.80,360.14 1494.92,360.89 1496.05,361.63C1497.18,362.37 1498.31,363.11 1499.45,363.84C1500.59,364.57 1501.72,365.30 1502.87,366.02C1504.01,366.74 1505.15,367.46 1506.30,368.18C1507.44,368.89 1508.59,369.61 1509.74,370.32C1510.89,371.02 1512.04,371.73 1513.19,372.44C1514.34,373.14 1515.50,373.84 1516.65,374.54C1517.81,375.24 1518.96,375.94 1520.12,376.64C1521.27,377.34 1522.43,378.03 1523.59,378.73C1524.74,379.42 1525.90,380.12 1527.06,380.81C1528.21,381.51 1529.37,382.20 1530.53,382.90C1531.68,383.59 1532.84,384.29 1533.99,384.99C1535.15,385.68 1536.30,386.38 1537.46,387.08C1538.61,387.78 1539.76,388.48 1540.91,389.18C1542.06,389.89 1543.21,390.59 1544.36,391.29C1545.51,391.99 1546.66,392.70 1547.80,393.40C1548.95,394.10 1550.10,394.81 1551.25,395.51C1552.40,396.22 1553.54,396.92 1554.69,397.62C1555.84,398.32 1556.99,399.02 1558.14,399.72C1559.29,400.42 1560.44,401.12 1561.59,401.82C1562.74,402.52 1563.89,403.21 1565.04,403.90C1566.20,404.60 1567.35,405.29 1568.51,405.98C1569.66,406.67 1570.82,407.35 1571.98,408.03C1573.14,408.72 1574.30,409.40 1575.46,410.07C1576.62,410.75 1577.79,411.42 1578.95,412.09C1580.12,412.76 1581.29,413.42 1582.46,414.09C1583.63,414.75 1584.81,415.40 1585.99,416.05C1587.16,416.71 1588.34,417.35 1589.53,418.00C1590.71,418.64 1591.89,419.28 1593.08,419.91C1594.27,420.55 1595.46,421.18 1596.65,421.80C1597.84,422.43 1599.04,423.05 1600.24,423.67C1601.43,424.28 1602.63,424.89 1603.84,425.50C1605.04,426.11 1606.24,426.71 1607.45,427.31C1608.66,427.91 1609.87,428.50 1611.08,429.09C1612.29,429.68 1613.51,430.26 1614.72,430.84C1615.94,431.42 1617.16,432.00 1618.38,432.57C1619.60,433.14 1620.83,433.70 1622.05,434.27C1623.28,434.83 1624.51,435.38 1625.74,435.93C1626.97,436.49 1628.20,437.03 1629.43,437.58C1630.67,438.12 1631.91,438.65 1633.14,439.19C1634.38,439.72 1635.62,440.25 1636.87,440.77C1638.11,441.29 1639.36,441.81 1640.60,442.32C1641.85,442.84 1643.10,443.35 1644.35,443.85C1645.60,444.35 1646.86,444.85 1648.11,445.35C1649.37,445.84 1650.62,446.33 1651.88,446.81C1653.14,447.29 1654.40,447.77 1655.67,448.25C1656.93,448.72 1658.19,449.19 1659.46,449.65C1660.73,450.12 1662.00,450.58 1663.27,451.03C1664.54,451.48 1665.81,451.93 1667.08,452.37C1668.36,452.82 1669.63,453.26 1670.91,453.69C1672.19,454.12 1673.47,454.55 1674.75,454.97C1676.03,455.40 1677.31,455.81 1678.60,456.23C1679.88,456.64 1681.17,457.05 1682.46,457.45C1683.74,457.85 1685.03,458.25 1686.32,458.64C1687.61,459.03 1689.19,459.17 1690.20,459.80C1691.21,460.43 1691.65,460.72 1692.40,462.40C1693.15,464.08 1693.95,467.40 1694.70,469.90C1695.45,472.40 1696.03,475.53 1696.90,477.40C1697.77,479.27 1699.03,480.67 1699.90,481.10C1700.77,481.53 1700.85,480.87 1702.10,480.00C1703.35,479.13 1705.92,476.92 1707.40,475.90C1708.88,474.88 1709.78,474.52 1710.98,473.86C1712.18,473.20 1713.39,472.56 1714.60,471.94C1715.81,471.32 1717.04,470.71 1718.26,470.13C1719.49,469.54 1720.72,468.98 1721.96,468.42C1723.20,467.87 1724.45,467.34 1725.70,466.82C1726.95,466.30 1728.21,465.80 1729.48,465.31C1730.74,464.83 1732.01,464.35 1733.28,463.90C1734.55,463.44 1735.83,462.99 1737.11,462.56C1738.40,462.13 1739.68,461.72 1740.97,461.31C1742.27,460.90 1743.56,460.51 1744.86,460.13C1746.16,459.75 1747.46,459.38 1748.77,459.02C1750.07,458.66 1751.38,458.31 1752.70,457.97C1754.01,457.64 1755.32,457.31 1756.64,456.99C1757.96,456.67 1759.28,456.35 1760.60,456.05C1761.93,455.75 1763.25,455.45 1764.58,455.16C1765.91,454.87 1767.24,454.59 1768.57,454.32C1769.90,454.04 1771.23,453.77 1772.56,453.51C1773.89,453.24 1775.23,452.98 1776.56,452.73C1777.90,452.48 1779.24,452.23 1780.57,451.99C1781.91,451.75 1783.25,451.51 1784.59,451.28C1785.93,451.05 1787.27,450.82 1788.61,450.60C1789.95,450.37 1791.30,450.16 1792.64,449.94C1793.98,449.73 1795.33,449.52 1796.67,449.31C1798.02,449.11 1799.37,448.91 1800.71,448.71C1802.06,448.52 1803.41,448.32 1804.76,448.13C1806.10,447.95 1807.45,447.76 1808.80,447.58C1810.15,447.40 1811.51,447.22 1812.86,447.04C1814.21,446.87 1815.56,446.70 1816.91,446.53C1818.26,446.36 1819.62,446.20 1820.97,446.03C1822.32,445.87 1823.68,445.71 1825.03,445.55C1826.39,445.39 1827.74,445.24 1829.10,445.09C1830.45,444.93 1831.81,444.78 1833.16,444.64C1834.52,444.49 1835.87,444.34 1837.23,444.20C1838.58,444.05 1839.94,443.91 1841.30,443.77C1842.65,443.63 1844.01,443.49 1845.37,443.35C1846.72,443.21 1848.08,443.07 1849.44,442.94C1850.79,442.80 1852.15,442.67 1853.50,442.53C1854.86,442.40 1856.22,442.27 1857.57,442.13C1858.93,442.00 1860.29,441.87 1861.64,441.74C1863.00,441.61 1864.35,441.48 1865.71,441.35C1867.07,441.22 1868.42,441.09 1869.78,440.96C1871.13,440.83 1872.49,440.71 1873.84,440.58C1875.20,440.45 1876.55,440.33 1877.91,440.20C1879.27,440.08 1880.62,439.95 1881.98,439.83C1883.33,439.71 1884.69,439.58 1886.04,439.46C1887.40,439.34 1888.75,439.22 1890.11,439.10C1891.46,438.98 1892.82,438.86 1894.17,438.74C1895.53,438.62 1896.88,438.50 1898.24,438.38C1899.59,438.26 1900.95,438.15 1902.30,438.03C1903.65,437.91 1905.01,437.80 1906.36,437.68C1907.72,437.57 1909.07,437.45 1910.43,437.34C1911.78,437.23 1913.14,437.12 1914.49,437.00C1915.85,436.89 1917.20,436.78 1918.55,436.67C1919.91,436.56 1921.26,436.45 1922.62,436.34C1923.97,436.23 1925.33,436.13 1926.68,436.02C1928.04,435.91 1929.39,435.80 1930.74,435.70C1932.10,435.59 1933.45,435.49 1934.81,435.38C1936.16,435.28 1937.52,435.18 1938.87,435.07C1940.23,434.97 1941.58,434.87 1942.94,434.77C1944.29,434.66 1945.64,434.56 1947.00,434.46C1948.35,434.36 1949.71,434.27 1951.06,434.17C1952.42,434.07 1953.77,433.97 1955.13,433.87C1956.48,433.78 1957.84,433.68 1959.19,433.59C1960.55,433.49 1961.90,433.40 1963.26,433.30C1964.61,433.21 1965.97,433.12 1967.32,433.02C1968.68,432.93 1970.03,432.84 1971.39,432.75C1972.74,432.66 1974.10,432.57 1975.45,432.48C1976.81,432.39 1978.16,432.30 1979.52,432.21C1980.87,432.13 1982.23,432.04 1983.58,431.95C1984.94,431.87 1986.30,431.78 1987.65,431.70C1989.01,431.61 1990.36,431.53 1991.72,431.45C1993.08,431.36 1994.43,431.28 1995.79,431.20C1997.14,431.12 1998.50,431.04 1999.86,430.96C2001.21,430.88 2002.57,430.80 2003.93,430.72C2005.28,430.64 2006.64,430.56 2008.00,430.49C2009.35,430.41 2010.71,430.33 2012.07,430.26C2013.42,430.18 2014.78,430.11 2016.14,430.03C2017.50,429.96 2018.85,429.89 2020.21,429.81C2021.57,429.74 2022.93,429.67 2024.28,429.60C2025.64,429.53 2027.00,429.46 2028.36,429.39C2029.72,429.32 2031.08,429.25 2032.43,429.18C2033.79,429.12 2035.15,429.05 2036.51,428.98C2037.87,428.92 2039.23,428.85 2040.59,428.79C2041.95,428.72 2043.31,428.66 2044.67,428.60C2046.02,428.53 2047.38,428.47 2048.74,428.41C2050.10,428.35 2051.46,428.29 2052.82,428.23C2054.18,428.17 2055.54,428.11 2056.91,428.05C2058.27,427.99 2059.63,427.93 2060.99,427.88C2062.35,427.82 2063.71,427.76 2065.07,427.71C2066.43,427.65 2067.79,427.60 2069.16,427.55C2070.52,427.49 2071.88,427.44 2073.24,427.39C2074.60,427.33 2075.97,427.28 2077.33,427.23C2078.69,427.18 2080.06,427.13 2081.42,427.08C2082.78,427.04 2084.15,426.99 2085.51,426.94C2086.87,426.89 2088.92,426.82 2089.60,426.80" fill="none" stroke="#d23a41" stroke-width="3.6" stroke-linejoin="round" stroke-linecap="butt"/>
<line x1="294.2" y1="99.6" x2="294.2" y2="534" stroke="#3a3a3a" stroke-width="3" stroke-dasharray="12.2 13.4" stroke-dashoffset="6.5"/>
<line x1="603.9" y1="99.6" x2="603.9" y2="534" stroke="#3a3a3a" stroke-width="3" stroke-dasharray="12.2 13.4" stroke-dashoffset="6.5"/>
<line x1="1436.0" y1="83.5" x2="1436.0" y2="534" stroke="#3a3a3a" stroke-width="3" stroke-dasharray="11.6 13.4" stroke-dashoffset="5.5"/>
<line x1="1702.4" y1="83.5" x2="1702.4" y2="534" stroke="#3a3a3a" stroke-width="3" stroke-dasharray="11.6 13.4" stroke-dashoffset="5.5"/>
<line x1="681.2" y1="81.8" x2="727.5" y2="81.8" stroke="#169897" stroke-width="4"/>
<line x1="682.7" y1="123.2" x2="726.0" y2="123.2" stroke="#d23a41" stroke-width="4"/>
<text transform="translate(734.8,93) scale(1,1.03)" class="lg">CsgA</text>
<text transform="translate(734.8,134.5) scale(1,1.03)" class="lg">CsgA-Mfp3S-pep</text>
<line x1="1759.5" y1="86.5" x2="1805.4" y2="86.5" stroke="#169897" stroke-width="4"/>
<line x1="1761.0" y1="128.0" x2="1803.9" y2="128.0" stroke="#d23a41" stroke-width="4"/>
<text transform="translate(1813.0,97.4) scale(1,1.03)" class="lg">CsgA</text>
<text transform="translate(1813.0,138.9) scale(1,1.03)" class="lg">CsgA-Mfp3S-pep</text>
<text transform="translate(367.0,517.9) scale(1,1.03)" class="lg">Monomers</text>
<text transform="translate(685.2,517.9) scale(1,1.03)" class="lg">Wash</text>
<text transform="translate(1456.4,517.9) scale(1,1.03)" class="lg">Fibers</text>
<text transform="translate(1783.9,517.9) scale(1,1.03)" class="lg">Wash</text>
<text transform="translate(600.45,661.8) scale(1,1.015)" text-anchor="middle" class="tt">Time (min)</text>
<text transform="translate(60.6,278.1) rotate(-90)" x="0" y="0" text-anchor="middle" class="tt">Δf (Hz)</text>
<text transform="translate(1676.2,661.8) scale(1,1.015)" text-anchor="middle" class="tt">Time (min)</text>
<text transform="translate(1136.4,277.6) rotate(-90)" x="0" y="0" text-anchor="middle" class="tt">Δf (Hz)</text>
<text x="-1.5" y="36.7" class="pl">a</text>
<text x="1059.6" y="36.8" class="pl">b</text>
</svg>
</body></html>
